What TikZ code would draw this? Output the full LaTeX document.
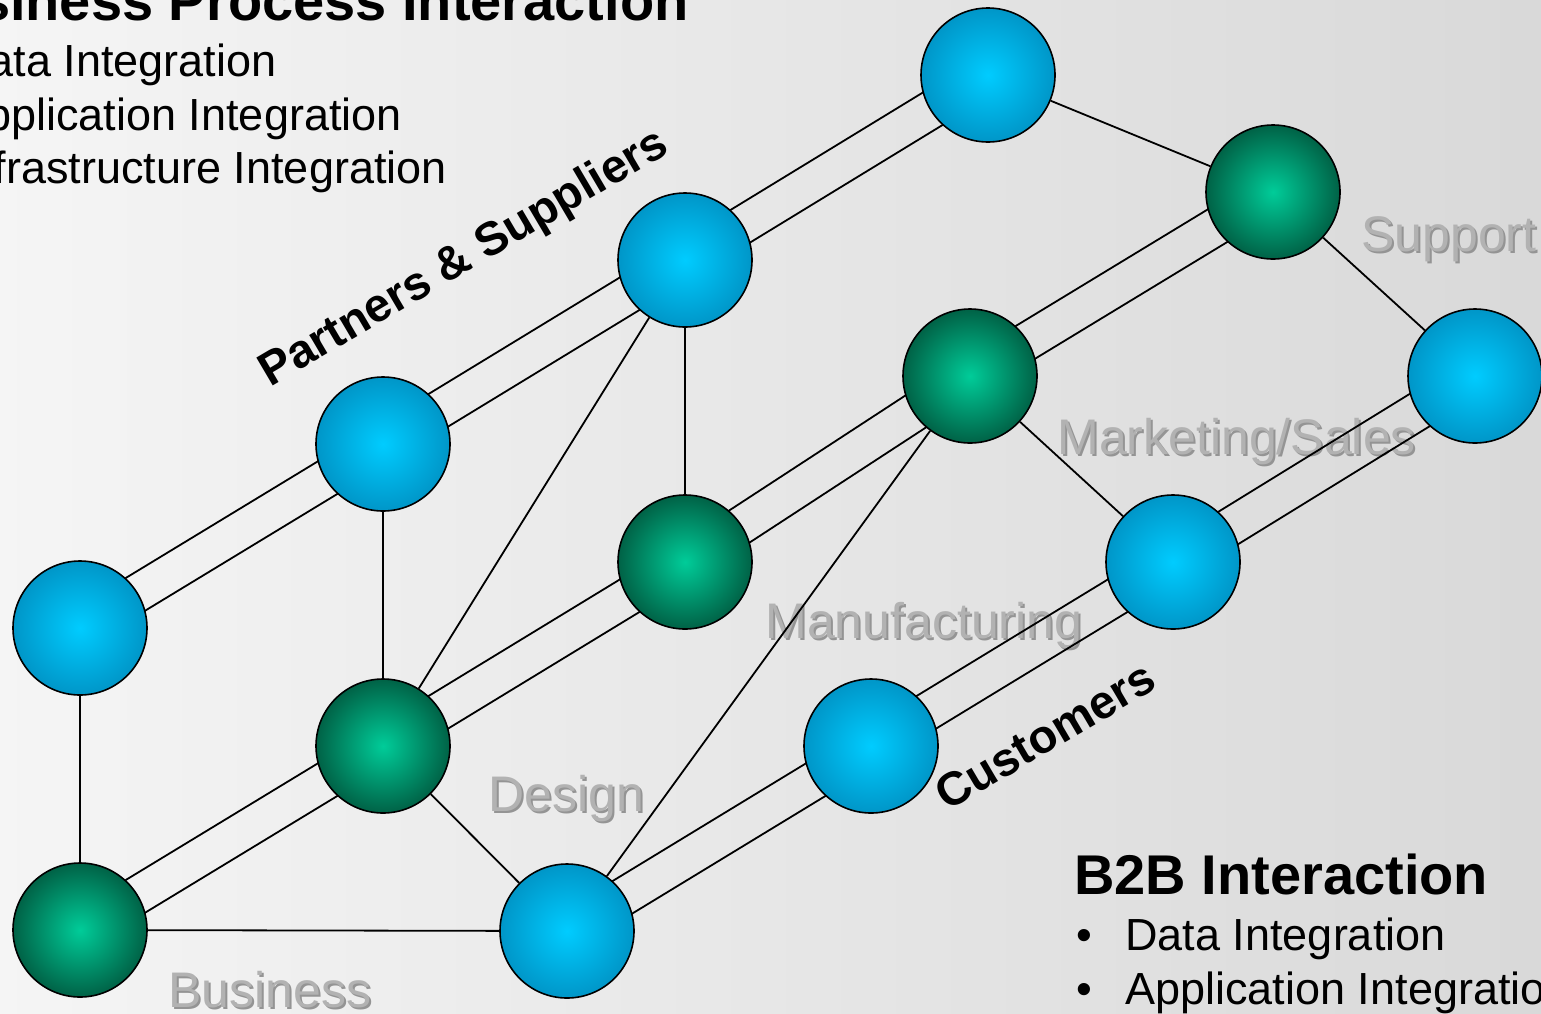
\documentclass[tikz,border=0pt]{standalone}
\usepackage{fontspec}
\setmainfont{Liberation Sans}
\usetikzlibrary{calc}
\pgfdeclarelayer{sky}
\pgfdeclarelayer{links}
\pgfsetlayers{sky,links,main}
\definecolor{bluecore}{RGB}{0,204,255}
\definecolor{blueedge}{RGB}{0,150,200}
\definecolor{greencore}{RGB}{0,204,153}
\definecolor{greenedge}{RGB}{0,98,70}

\begin{document}
\begin{tikzpicture}[
  x=0.5pt, y=-0.5pt,
  ball/.style={circle, draw=black, line width=0.8pt, minimum size=67pt, inner sep=0pt},
  blueball/.style={ball, inner color=bluecore, outer color=blueedge},
  greenball/.style={ball, inner color=greencore, outer color=greenedge},
  link/.style={line width=0.9pt},
  heading/.style={anchor=base west, inner sep=0pt, font=\fontsize{28}{30}\selectfont\bfseries},
  item/.style={anchor=base west, inner sep=0pt, font=\fontsize{22.5}{27}\selectfont},
  group/.style={anchor=base west, inner sep=0pt, rotate=30.5, font=\fontsize{23.5}{28}\selectfont\bfseries},
  area/.style={anchor=base west, inner sep=0pt, text=black!30, font=\fontsize{25}{30}\selectfont},
  areashade/.style={area, text=black!42}
]
\useasboundingbox (0,0) rectangle (1541,1013);

% sky and the grey process names
\begin{pgfonlayer}{sky}
\fill[left color=black!4, right color=black!15] (0,0) rectangle (1541,1013);
\foreach \nm/\x/\y/\txt in {areaBus/168/1007/Business, areaDes/488/811/Design,
    areaMan/765/638/Manufacturing, areaMkt/1057/454/{Marketing/Sales},
    areaSup/1361/251/Support} {
  \node[areashade] (\nm s) at (\x+2,\y+2) {\txt};
  \node[area] (\nm) at (\x,\y) {\txt};
}
\end{pgfonlayer}

% partners & suppliers
\node[blueball] (sup1) at (80,628) {};
\node[blueball] (sup2) at (383,444) {};
\node[blueball] (sup3) at (685,260) {};
\node[blueball] (sup4) at (988,75) {};
% business
\node[greenball] (biz1) at (80,930) {};
\node[greenball] (biz2) at (383,746) {};
\node[greenball] (biz3) at (685,562) {};
\node[greenball] (biz4) at (970,376) {};
\node[greenball] (biz5) at (1273,192) {};
% customers
\node[blueball] (cust1) at (567,931) {};
\node[blueball] (cust2) at (871,746) {};
\node[blueball] (cust3) at (1173,562) {};
\node[blueball] (cust4) at (1475,376) {};

\begin{pgfonlayer}{links}
\foreach \a/\b in {sup1/sup2, sup2/sup3, sup3/sup4, biz1/biz2, biz2/biz3, biz3/biz4,
    biz4/biz5, cust1/cust2, cust2/cust3, cust3/cust4}
  \draw[link] ($(\a)!9.5pt!90:(\b)$) -- ($(\b)!9.5pt!-90:(\a)$)
              ($(\a)!9.5pt!-90:(\b)$) -- ($(\b)!9.5pt!90:(\a)$);
\foreach \a/\b in {sup1/biz1, sup2/biz2, sup3/biz3, sup3/biz2, biz1/cust1, biz2/cust1,
    biz4/cust1, biz4/cust3, sup4/biz5, biz5/cust4}
  \draw[link] (\a) -- (\b);
\end{pgfonlayer}

\node[group] (partners) at (270,388) {Partners \& Suppliers};
\node[group] (customers) at (947,812) {Customers};

\node[heading] (bpi) at (-96,20) {Business Process Interaction};
\node[item] (bpiData) at (-44,76) {Data Integration};
\node[item] (bpiApp) at (-44,130) {Application Integration};
\node[item] (bpiInfra) at (-44,183) {Infrastructure Integration};

\node[heading] (b2b) at (1074,894) {B2B Interaction};
\node[item] (dot1) at (1076,950) {•};
\node[item] (b2bData) at (1125,950) {Data Integration};
\node[item] (dot2) at (1076,1004) {•};
\node[item] (b2bApp) at (1125,1004) {Application Integration};

\end{tikzpicture}
\end{document}
